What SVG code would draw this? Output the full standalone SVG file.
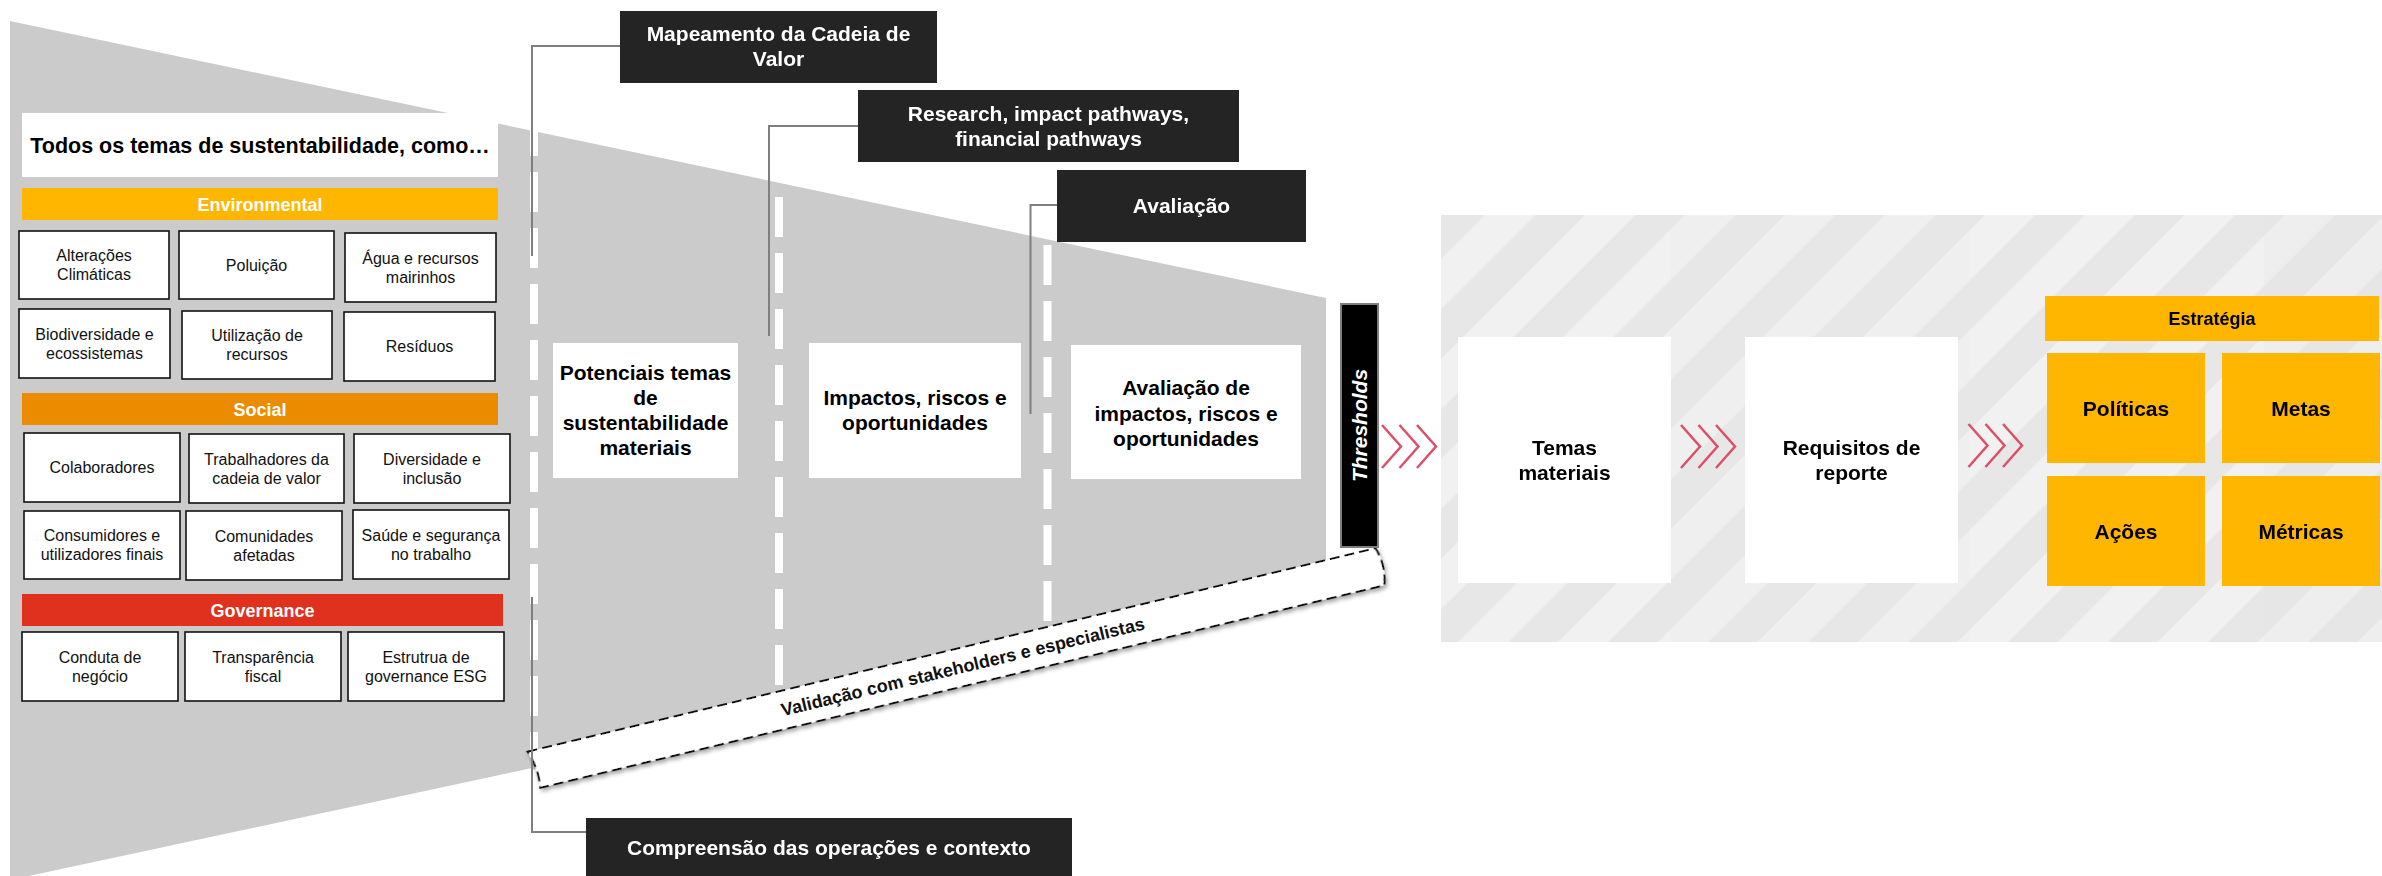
<svg xmlns="http://www.w3.org/2000/svg" width="2382" height="876" viewBox="0 0 2382 876">
<defs>
<style>
text{font-family:"Liberation Sans",Arial,sans-serif}
.gray{fill:#cbcbcb}
.box{fill:#fff;stroke:#111;stroke-width:1.6}
.bt{font-size:16px;fill:#111;text-anchor:middle}
.bar{font-size:18px;font-weight:bold;fill:#fff;text-anchor:middle}
.wb{fill:#fff}
.bold21{font-size:21px;font-weight:bold;fill:#000;text-anchor:middle}
.dark{fill:#242424}
.dt{font-size:21px;font-weight:bold;fill:#fff;text-anchor:middle}
.div{stroke:#fff;stroke-width:8;stroke-dasharray:40 16;fill:none}
.conn{stroke:#7f7f7f;stroke-width:2;fill:none}
.chev{stroke:#DB5068;stroke-width:2.5;fill:none}
.yel{fill:#FFB600}
</style>
<pattern id="stripes" patternUnits="userSpaceOnUse" width="70.7" height="20" patternTransform="rotate(45)">
<rect x="0" y="0" width="35.35" height="20" fill="#f1f1f1"/>
<rect x="35.35" y="0" width="35.35" height="20" fill="#e7e7e7"/>
</pattern>
<filter id="shadow" x="-5%" y="-50%" width="110%" height="200%">
<feDropShadow dx="1" dy="3" stdDeviation="2" flood-color="#000" flood-opacity="0.35"/>
</filter>
</defs>

<!-- striped background -->
<rect x="1441" y="215" width="941" height="427" fill="url(#stripes)"/>
<g id="tiles" opacity="0.5">
<rect x="1670" y="215" width="299" height="427" fill="#e9e9e9" opacity="0.25"/>
<rect x="2264" y="215" width="118" height="427" fill="#e0e0e0" opacity="0.25"/>
</g>

<!-- gray funnel shapes -->
<g id="funnel">
<polygon class="gray" points="10,21 532,130.7 532,768 10,880"/>
<polygon class="gray" points="532,130.7 1326,298 1326,578 532,770"/>
</g>

<!-- dashed dividers -->
<g id="dividers">
<line class="div" x1="534" y1="130" x2="534" y2="760" stroke-dashoffset="14"/>
<line class="div" x1="779" y1="182" x2="779" y2="700" stroke-dashoffset="41"/>
<line class="div" x1="1047.5" y1="239" x2="1047.5" y2="635" stroke-dashoffset="50"/>
</g>

<!-- left panel -->
<g id="todos">
<rect class="wb" x="22" y="113" width="476" height="64"/>
<text x="260" y="152.5" font-size="21.5" font-weight="bold" fill="#000" text-anchor="middle">Todos os temas de sustentabilidade, como…</text>
</g>
<g id="environmental">
<rect class="yel" x="22" y="188" width="476" height="32"/>
<text class="bar" x="260" y="210.5">Environmental</text>
</g>
<g id="env-alteracoes"><rect class="box" x="19" y="231" width="150" height="68"/><text class="bt" x="94" y="261">Alterações</text><text class="bt" x="94" y="280">Climáticas</text></g>
<g id="env-poluicao"><rect class="box" x="179" y="231" width="155" height="68"/><text class="bt" x="256.5" y="270.6">Poluição</text></g>
<g id="env-agua"><rect class="box" x="345" y="233" width="151" height="69"/><text class="bt" x="420.5" y="263.5">Água e recursos</text><text class="bt" x="420.5" y="282.5">mairinhos</text></g>
<g id="env-biodiversidade"><rect class="box" x="19" y="309" width="151" height="69"/><text class="bt" x="94.5" y="339.5">Biodiversidade e</text><text class="bt" x="94.5" y="358.5">ecossistemas</text></g>
<g id="env-utilizacao"><rect class="box" x="182" y="311" width="150" height="68"/><text class="bt" x="257" y="341">Utilização de</text><text class="bt" x="257" y="360">recursos</text></g>
<g id="env-residuos"><rect class="box" x="344" y="312" width="151" height="69"/><text class="bt" x="419.5" y="352">Resíduos</text></g>

<g id="social">
<rect fill="#EB8C00" x="22" y="393" width="476" height="32"/>
<text class="bar" x="260" y="415.5">Social</text>
</g>
<g id="soc-colaboradores"><rect class="box" x="24" y="433" width="156" height="69"/><text class="bt" x="102" y="473">Colaboradores</text></g>
<g id="soc-trabalhadores"><rect class="box" x="189" y="434" width="155" height="69"/><text class="bt" x="266.5" y="464.5">Trabalhadores da</text><text class="bt" x="266.5" y="483.5">cadeia de valor</text></g>
<g id="soc-diversidade"><rect class="box" x="354" y="434" width="156" height="69"/><text class="bt" x="432" y="464.5">Diversidade e</text><text class="bt" x="432" y="483.5">inclusão</text></g>
<g id="soc-consumidores"><rect class="box" x="24" y="511" width="156" height="68"/><text class="bt" x="102" y="541">Consumidores e</text><text class="bt" x="102" y="560">utilizadores finais</text></g>
<g id="soc-comunidades"><rect class="box" x="186" y="511" width="156" height="69"/><text class="bt" x="264" y="541.5">Comunidades</text><text class="bt" x="264" y="560.5">afetadas</text></g>
<g id="soc-saude"><rect class="box" x="353" y="510" width="156" height="69"/><text class="bt" x="431" y="540.5">Saúde e segurança</text><text class="bt" x="431" y="559.5">no trabalho</text></g>

<g id="governance">
<rect fill="#E0301E" x="22" y="594" width="481" height="32"/>
<text class="bar" x="262.5" y="616.5">Governance</text>
</g>
<g id="gov-conduta"><rect class="box" x="22" y="632" width="156" height="69"/><text class="bt" x="100" y="662.5">Conduta de</text><text class="bt" x="100" y="681.5">negócio</text></g>
<g id="gov-transparencia"><rect class="box" x="185" y="632" width="156" height="69"/><text class="bt" x="263" y="662.5">Transparência</text><text class="bt" x="263" y="681.5">fiscal</text></g>
<g id="gov-estrutura"><rect class="box" x="348" y="632" width="156" height="69"/><text class="bt" x="426" y="662.5">Estrutrua de</text><text class="bt" x="426" y="681.5">governance ESG</text></g>

<!-- middle process boxes -->
<g id="potenciais">
<rect class="wb" x="553" y="343" width="185" height="135"/>
<text class="bold21" x="645.5" y="380">Potenciais temas</text>
<text class="bold21" x="645.5" y="405">de</text>
<text class="bold21" x="645.5" y="430">sustentabilidade</text>
<text class="bold21" x="645.5" y="455">materiais</text>
</g>
<g id="impactos">
<rect class="wb" x="809" y="343" width="212" height="135"/>
<text class="bold21" x="915" y="405">Impactos, riscos e</text>
<text class="bold21" x="915" y="430">oportunidades</text>
</g>
<g id="avaliacao-iro">
<rect class="wb" x="1071" y="345" width="230" height="134"/>
<text class="bold21" x="1186" y="395">Avaliação de</text>
<text class="bold21" x="1186" y="420.5">impactos, riscos e</text>
<text class="bold21" x="1186" y="446">oportunidades</text>
</g>

<!-- validation band -->
<g id="validacao" transform="translate(527.6,751.7) rotate(-13.49)">
<path d="M0,0 L872,0 Q878,19 872,38 L4,38 Q7,19 0,0 Z" fill="#fff" stroke="#111" stroke-width="2" stroke-dasharray="10 5" filter="url(#shadow)"/>
<text x="443" y="25" font-size="18" font-weight="bold" fill="#111" text-anchor="middle">Validação com stakeholders e especialistas</text>
</g>

<!-- thresholds -->
<g id="thresholds">
<rect x="1341" y="304" width="37" height="243" fill="#000" stroke="#7f7f7f" stroke-width="2"/>
<text transform="translate(1367,425.5) rotate(-90)" x="0" y="0" font-size="21" font-weight="bold" font-style="italic" fill="#fff" text-anchor="middle">Thresholds</text>
</g>

<!-- connectors -->
<g id="connectors">
<polyline class="conn" points="620,46 532,46 532,256"/>
<polyline class="conn" points="858,126 769,126 769,336"/>
<polyline class="conn" points="1057,205 1030.5,205 1030.5,414"/>
<polyline class="conn" points="586,832 532,832 532,597"/>
<g id="chevrons">
<polyline class="chev" points="1382,425 1401,446.5 1382,468"/>
<polyline class="chev" points="1399.5,425 1418.5,446.5 1399.5,468"/>
<polyline class="chev" points="1417,425 1436,446.5 1417,468"/>
<polyline class="chev" points="1681,425 1700,446.5 1681,468"/>
<polyline class="chev" points="1698.5,425 1717.5,446.5 1698.5,468"/>
<polyline class="chev" points="1716,425 1735,446.5 1716,468"/>
<polyline class="chev" points="1968.5,424 1987.5,445.5 1968.5,467"/>
<polyline class="chev" points="1985.5,424 2004.5,445.5 1985.5,467"/>
<polyline class="chev" points="2003,424 2022,445.5 2003,467"/>
</g>
</g>

<!-- dark step labels -->
<g id="mapeamento">
<rect class="dark" x="620" y="11" width="317" height="72"/>
<text class="dt" x="778.5" y="41">Mapeamento da Cadeia de</text>
<text class="dt" x="778.5" y="66">Valor</text>
</g>
<g id="research">
<rect class="dark" x="858" y="90" width="381" height="72"/>
<text class="dt" x="1048.5" y="121">Research, impact pathways,</text>
<text class="dt" x="1048.5" y="146">financial pathways</text>
</g>
<g id="avaliacao">
<rect class="dark" x="1057" y="170" width="249" height="72"/>
<text class="dt" x="1181.5" y="213">Avaliação</text>
</g>
<g id="compreensao">
<rect class="dark" x="586" y="818" width="486" height="58"/>
<text class="dt" x="829" y="855">Compreensão das operações e contexto</text>
</g>

<!-- right side -->
<g id="temas-materiais">
<rect class="wb" x="1458" y="337" width="213" height="246"/>
<text class="bold21" x="1564.5" y="455">Temas</text>
<text class="bold21" x="1564.5" y="480">materiais</text>
</g>
<g id="requisitos">
<rect class="wb" x="1745" y="337" width="213" height="246"/>
<text class="bold21" x="1851.5" y="455">Requisitos de</text>
<text class="bold21" x="1851.5" y="480">reporte</text>
</g>
<g id="estrategia">
<rect class="yel" x="2045" y="296" width="334" height="45"/>
<text x="2212" y="325" font-size="18" font-weight="bold" fill="#000" text-anchor="middle">Estratégia</text>
</g>
<g id="politicas"><rect class="yel" x="2047" y="353" width="158" height="110"/><text class="bold21" x="2126" y="415.5">Políticas</text></g>
<g id="metas"><rect class="yel" x="2222" y="353" width="158" height="110"/><text class="bold21" x="2301" y="415.5">Metas</text></g>
<g id="acoes"><rect class="yel" x="2047" y="476" width="158" height="110"/><text class="bold21" x="2126" y="538.5">Ações</text></g>
<g id="metricas"><rect class="yel" x="2222" y="476" width="158" height="110"/><text class="bold21" x="2301" y="538.5">Métricas</text></g>
</svg>
